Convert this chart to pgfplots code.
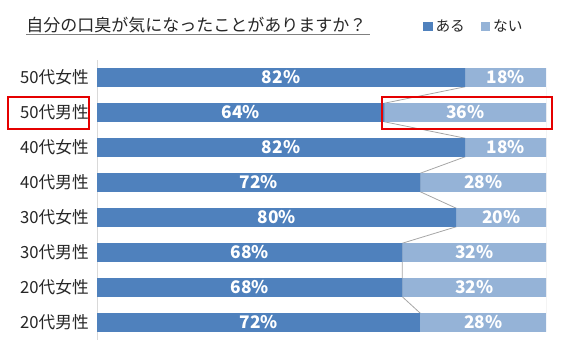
\documentclass[border=0pt]{standalone}
\usepackage{pgfplots}
\pgfplotsset{compat=1.18}
\usepackage{fontspec}
\setmainfont{Noto Sans CJK JP}
\definecolor{dk}{HTML}{4F81BD}
\definecolor{lt}{HTML}{95B3D7}
\definecolor{sl}{HTML}{A6A6A6}
\definecolor{txt}{HTML}{262626}
\begin{document}
\begin{tikzpicture}
\path[use as bounding box] (0pt,0pt) rectangle (435.75pt,270pt);
\pgfplotsset{base/.style={
  at={(72.75pt,15pt)}, anchor=south west, scale only axis,
  width=336.75pt, height=210pt,
  xmin=0, xmax=100, ymin=-0.5, ymax=7.5,
}}
% series lines
\begin{axis}[base, hide axis]
\addplot[sl, line width=0.6pt] coordinates {(72,0.265) (68,0.735) (68,1.265) (68,1.735) (68,2.265) (80,2.735) (80,3.265) (72,3.735) (72,4.265) (82,4.735) (82,5.265) (64,5.735) (64,6.265) (82,6.735)};
\addplot[sl, line width=0.6pt] coordinates {(100,0.265) (100,6.735)};
\end{axis}
% bars
\begin{axis}[base, xbar stacked, bar width=0.53,
  axis lines*=left,
  x axis line style={draw=none},
  y axis line style={draw=black!15, line width=0.75pt},
  xtick=\empty,
  ytick={0,...,7},
  yticklabels={20代男性,20代女性,30代男性,30代女性,40代男性,40代女性,50代男性,50代女性},
  major tick length=0pt,
  yticklabel style={font=\fontsize{12.5}{13}\selectfont, text=txt, inner sep=0pt, xshift=-6pt},
  visualization depends on=rawx \as \rawx,
  nodes near coords={\pgfmathprintnumber[assume math mode=true,fixed,precision=0]{\rawx}\%},
  every node near coord/.append style={anchor=center, font=\bfseries\fontsize{13}{13}\selectfont, text=white},
  legend columns=2,
  legend style={at={(0.726,1.12)}, anchor=west, draw=none, fill=none, inner sep=0pt,
    font=\fontsize{11}{12}\selectfont, text=txt,
    /tikz/every even column/.append style={column sep=10pt}},
  legend image code/.code={\fill[#1] (0pt,-3.6pt) rectangle (7.2pt,3.6pt);},
]
\addplot[fill=dk, draw=none] coordinates {(72,0) (68,1) (68,2) (80,3) (72,4) (82,5) (64,6) (82,7)};
\addplot[fill=lt, draw=none] coordinates {(28,0) (32,1) (32,2) (20,3) (28,4) (18,5) (36,6) (18,7)};
\legend{ある,ない}
\end{axis}
% title
\node[anchor=west, inner sep=0pt, text=txt, font=\fontsize{12.75}{13}\selectfont] at (19.5pt,250.875pt) {自分の口臭が気になったことがありますか？};
\draw[black!50, line width=0.9pt] (19.5pt,244.1pt) -- (277.5pt,244.1pt);
% highlights
\draw[red!90!black, line width=2pt] (6pt,197.25pt) rectangle (66.75pt,173.25pt);
\draw[red!90!black, line width=2pt] (286.5pt,197.25pt) rectangle (414pt,173.25pt);
\end{tikzpicture}
\end{document}
